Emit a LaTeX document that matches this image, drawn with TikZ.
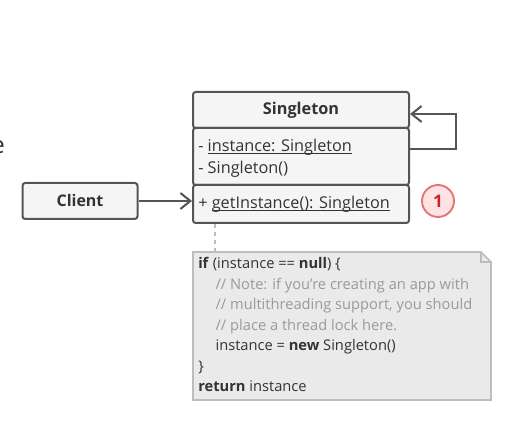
\documentclass[tikz,border=0pt]{standalone}
\usepackage{fontspec}
\setmainfont{Open Sans}
\usetikzlibrary{arrows.meta}
\definecolor{boxline}{HTML}{555555}
\definecolor{boxfill}{HTML}{F5F5F5}
\definecolor{textdark}{HTML}{333333}
\definecolor{notefill}{HTML}{EAEAEA}
\definecolor{noteline}{HTML}{BDBDBD}
\definecolor{commentgray}{HTML}{9A9A9A}
\definecolor{markline}{HTML}{E57373}
\definecolor{markfill}{HTML}{FDE3E3}
\definecolor{marktext}{HTML}{C62828}
\newcommand{\undertext}[1]{\setbox0\hbox{#1}\rlap{\rule[-2.4pt]{\wd0}{0.75pt}}\box0}
\begin{document}
\begin{tikzpicture}
[x=0.75pt,y=-0.75pt,
  classdecorate/.style={shape=rectangle,draw=boxline,fill=boxfill,line width=1.5pt,
    rounded corners=2pt,minimum width=162pt,inner sep=0pt},%
  memberdecorate/.style={anchor=west,inner sep=0pt,text=textdark,font=\fontsize{12.2pt}{14pt}\selectfont},%
  linedecorate/.style={draw=boxline,line width=1.5pt,-{Straight Barb[length=7.5pt,width=12pt,line width=1.5pt]}}]
\useasboundingbox (0,0) rectangle (518,427);
%% cut-off text at the left edge
\node (edgetext) at (5,147) [anchor=east,inner sep=0pt,text=textdark,
  font=\fontsize{18pt}{20pt}\selectfont] {e};
%% class compartments
\node (title) at (301,110) [classdecorate,minimum height=27pt,
  font=\bfseries\fontsize{12.2pt}{14pt}\selectfont,text=textdark] {Singleton};
\node (members) at (301,156.5) [classdecorate,minimum height=42.75pt] {};
\node (method) at (301,204) [classdecorate,minimum height=28.5pt] {};
\node (client) at (80,201) [classdecorate,minimum width=86.25pt,minimum height=27pt,
  font=\bfseries\fontsize{12pt}{14pt}\selectfont,text=textdark] {Client};
%% members
\node (field) at (198,147) [memberdecorate] {- \undertext{instance: Singleton}};
\node (ctor) at (198,169) [memberdecorate] {- Singleton()};
\node (getter) at (198,204) [memberdecorate] {+ \undertext{getInstance(): Singleton}};
%% step marker
\node (mark) at (438,201) [shape=circle,draw=markline,fill=markfill,line width=1.4pt,
  minimum size=24pt,inner sep=0pt,text=marktext,
  font=\bfseries\fontsize{13pt}{15pt}\selectfont] {1};
%% connectors
\coordinate (loopa) at (456,149);
\coordinate (loopb) at (456,114);
\draw[linedecorate] (client.east) -- (method.west |- client.east);
\draw[linedecorate] (members.east |- loopa) -- (loopa) -- (loopb) -- (title.east |- loopb);
%% note
\coordinate (notetop) at (215,252);
\draw[draw=noteline,line width=0.9pt,dashed,dash pattern=on 3pt off 3pt]
  (method.south -| notetop) -- (notetop);
\draw[draw=noteline,fill=notefill,line width=1.2pt]
  (193,252) -- (481,252) -- (491,262) -- (491,400) -- (193,400) -- cycle;
\draw[draw=noteline,line width=1pt] (481,252) -- (481,262) -- (491,262);
\node (notetext) at (198,257) [anchor=north west,inner sep=0pt,align=left,text=textdark,
  font=\fontsize{11pt}{15.4pt}\selectfont]
  {\textbf{if} (instance == \textbf{null}) \{\\
   \hspace*{13pt}\textcolor{commentgray}{// Note: if you're creating an app with}\\
   \hspace*{13pt}\textcolor{commentgray}{// multithreading support, you should}\\
   \hspace*{13pt}\textcolor{commentgray}{// place a thread lock here.}\\
   \hspace*{13pt}instance = \textbf{new} Singleton()\\
   \}\\
   \textbf{return} instance};
\end{tikzpicture}
\end{document}
